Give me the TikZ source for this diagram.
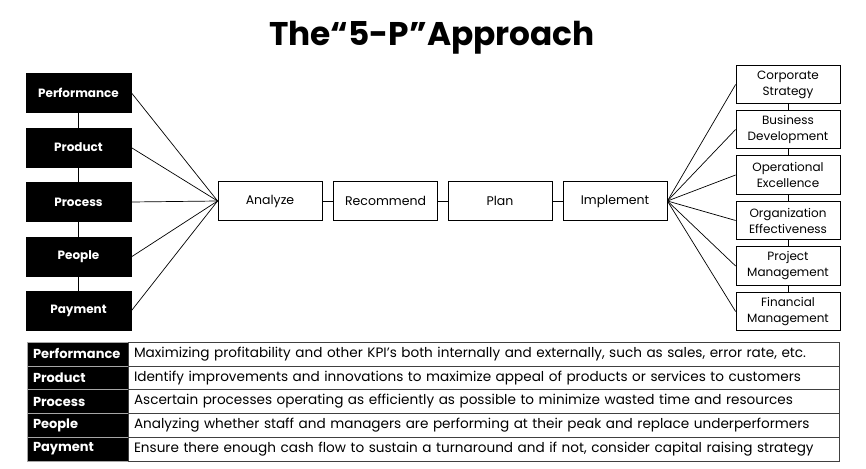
\documentclass[tikz,border=0pt]{standalone}
\usepackage{fontspec}
\setmainfont{Poppins}
\begin{document}
\begin{tikzpicture}[x=1pt,y=-1pt,
  pbox/.style={draw=black, fill=black, text=white, font=\bfseries\fontsize{12}{14}\selectfont, minimum width=105pt, minimum height=39pt, inner sep=0pt},
  wbox/.style={draw=black, line width=0.8pt, fill=white, font=\fontsize{12}{16}\selectfont, minimum width=104pt, minimum height=38.5pt, inner sep=0pt, align=center},
  sbox/.style={wbox, font=\fontsize{12.5}{16}\selectfont},
  conn/.style={line width=0.7pt},
  lcell/.style={draw=gray!70, fill=black, text=white, font=\bfseries\fontsize{13}{15}\selectfont, minimum width=101pt, minimum height=23.8pt, text width=89pt, inner xsep=6pt, inner ysep=0pt, align=left},
  dcell/.style={draw=black!75, fill=white, font=\fontsize{13.6}{15}\selectfont, minimum width=711pt, minimum height=23.8pt, text width=699pt, inner xsep=6pt, inner ysep=0pt, align=left}]
\useasboundingbox (0,0) rectangle (866,468);
\node[font=\bfseries\fontsize{32.8}{38}\selectfont] (title) at (432,37.5) {The“5-P”Approach};
% left boxes
\node[pbox] (p1) at (78.5,92.5) {Performance};
\node[pbox] (p2) at (78.5,147.5) {Product};
\node[pbox] (p3) at (78.5,202) {Process};
\node[pbox] (p4) at (78.5,257) {People};
\node[pbox] (p5) at (78.5,311) {Payment};
\draw[conn] (p1) -- (p2) (p2) -- (p3) (p3) -- (p4) (p4) -- (p5);
% center
\node[sbox] (a) at (270,201) {Analyze};
\node[sbox] (r) at (385.5,201) {Recommend};
\node[sbox] (pl) at (500,201) {Plan};
\node[sbox] (im) at (615,201) {Implement};
\draw[conn] (a) -- (r) (r) -- (pl) (pl) -- (im);
\foreach \i in {1,...,5} {\draw[conn] (p\i.east) -- (a.west);}
% right boxes
\node[wbox] (c1) at (788,84.5) {Corporate\\Strategy};
\node[wbox] (c2) at (788,129.5) {Business\\Development};
\node[wbox] (c3) at (788,175) {Operational\\Excellence};
\node[wbox] (c4) at (788,220.5) {Organization\\Effectiveness};
\node[wbox] (c5) at (788,266) {Project\\Management};
\node[wbox] (c6) at (788,311.5) {Financial\\Management};
\draw[conn] (c1) -- (c2) (c2) -- (c3) (c3) -- (c4) (c4) -- (c5) (c5) -- (c6);
\foreach \i in {1,...,6} {\draw[conn] (im.east) -- (c\i.west);}
% table
\node[lcell] (l1) at (77.5,353.9) {Performance};
\node[lcell] (l2) at (77.5,377.7) {Product};
\node[lcell] (l3) at (77.5,401.5) {Process};
\node[lcell] (l4) at (77.5,425.3) {People};
\node[lcell] (l5) at (77.5,449.1) {Payment};
\node[dcell] (d1) at (483.5,353.9) {Maximizing profitability and other KPI’s both internally and externally, such as sales, error rate, etc.};
\node[dcell] (d2) at (483.5,377.7) {Identify improvements and innovations to maximize appeal of products or services to customers};
\node[dcell] (d3) at (483.5,401.5) {Ascertain processes operating as efficiently as possible to minimize wasted time and resources};
\node[dcell] (d4) at (483.5,425.3) {Analyzing whether staff and managers are performing at their peak and replace underperformers};
\node[dcell] (d5) at (483.5,449.1) {Ensure there enough cash flow to sustain a turnaround and if not, consider capital raising strategy};
\end{tikzpicture}
\end{document}
